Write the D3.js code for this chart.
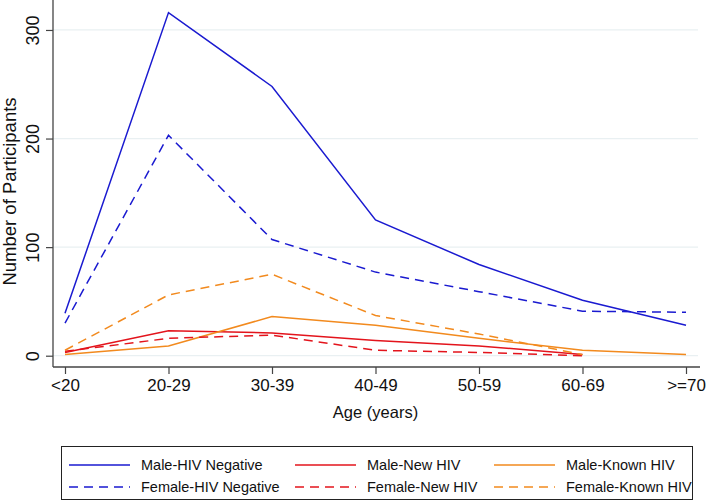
<!DOCTYPE html>
<html>
<head>
<meta charset="utf-8">
<script src="https://cdn.jsdelivr.net/npm/d3@7"></script>
<style>
  body { margin: 0; background: #fff; }
  svg { font-family: "Liberation Sans", Arial, Helvetica, sans-serif; }
</style>
</head>
<body>
<div id="chart"></div>
<script>
const ageGroups = ["<20", "20-29", "30-39", "40-49", "50-59", "60-69", ">=70"];
const yTicks = [0, 100, 200, 300];

const maleNegative = [39, 316, 248, 125, 84, 51, 28];
const femaleNegative = [30, 203, 107, 77, 59, 41, 40];
const maleNew = [3, 23, 21, 14, 9, 1, null];
const femaleNew = [4, 16, 19, 5, 3, 0, null];
const maleKnown = [1, 9, 36, 28, 16, 5, 1];
const femaleKnown = [5, 56, 75, 37, 20, 1, null];

const seriesNames = ["Male-HIV Negative", "Male-New HIV", "Male-Known HIV",
                     "Female-HIV Negative", "Female-New HIV", "Female-Known HIV"];

const blue = "#1a1ad0", red = "#e3141c", orange = "#f28a1e";

const series = [
    { name: seriesNames[0], values: maleNegative, color: blue, dash: null },
    { name: seriesNames[1], values: maleNew, color: red, dash: null },
    { name: seriesNames[2], values: maleKnown, color: orange, dash: null },
    { name: seriesNames[3], values: femaleNegative, color: blue, dash: "9,6" },
    { name: seriesNames[4], values: femaleNew, color: red, dash: "9,6" },
    { name: seriesNames[5], values: femaleKnown, color: orange, dash: "9,6" }
];

const width = 706, height = 502;
const plot = { left: 53, right: 698, top: 0, bottom: 367 };

const svg = d3.select("#chart").append("svg")
    .attr("width", width)
    .attr("height", height);

const x = d3.scalePoint()
    .domain(ageGroups)
    .range([65, 686]);

const y = d3.scaleLinear()
    .domain([-10.4, 327.6])
    .range([plot.bottom, plot.top]);

// grid
svg.append("g").selectAll("line")
    .data(yTicks)
    .enter().append("line")
    .attr("x1", plot.left)
    .attr("x2", plot.right)
    .attr("y1", d => y(d))
    .attr("y2", d => y(d))
    .attr("stroke", "#e9f0f2")
    .attr("stroke-width", 1.3);

// lines
const line = d3.line()
    .defined(d => d.v !== null)
    .x(d => x(d.age))
    .y(d => y(d.v));

svg.append("g").selectAll("path")
    .data(series)
    .enter().append("path")
    .attr("fill", "none")
    .attr("stroke", d => d.color)
    .attr("stroke-width", 1.5)
    .attr("stroke-dasharray", d => d.dash)
    .attr("d", d => line(d.values.map((v, i) => ({ age: ageGroups[i], v: v }))));

// y axis
const yAxis = svg.append("g")
    .attr("transform", `translate(${plot.left},0)`)
    .call(d3.axisLeft(y).tickValues(yTicks).tickSize(7).tickFormat(d3.format("d")).tickSizeOuter(0));
yAxis.select(".domain").attr("stroke", "#444").attr("stroke-width", 1.3)
    .attr("d", `M0,${plot.top}V${plot.bottom}`);
yAxis.selectAll(".tick line").attr("stroke", "#444").attr("stroke-width", 1.2);
yAxis.selectAll(".tick text")
    .attr("font-size", 18)
    .attr("fill", "#111")
    .attr("text-anchor", "middle")
    .attr("x", 0)
    .attr("dy", 0)
    .attr("transform", "translate(-14,0) rotate(-90)");

// x axis
const xAxis = svg.append("g")
    .attr("transform", `translate(0,${plot.bottom})`)
    .call(d3.axisBottom(x).tickSize(7).tickSizeOuter(0));
xAxis.select(".domain").attr("stroke", "#444").attr("stroke-width", 1.3)
    .attr("d", `M${plot.left},0H${plot.right + 2}`);
xAxis.selectAll(".tick line").attr("stroke", "#444").attr("stroke-width", 1.2);
xAxis.selectAll(".tick text")
    .attr("font-size", 17)
    .attr("fill", "#111")
    .attr("y", 12)
    .attr("dy", "0.71em");

// axis titles
svg.append("text")
    .attr("transform", `translate(16,${(plot.top + plot.bottom) / 2 + 8}) rotate(-90)`)
    .attr("text-anchor", "middle")
    .attr("font-size", 18.5)
    .attr("fill", "#111")
    .text("Number of Participants");

svg.append("text")
    .attr("x", (plot.left + plot.right) / 2)
    .attr("y", 418)
    .attr("text-anchor", "middle")
    .attr("font-size", 16.5)
    .attr("fill", "#111")
    .text("Age (years)");

// legend
const legend = svg.append("g");
legend.append("rect")
    .attr("x", 61.5)
    .attr("y", 446.5)
    .attr("width", 631)
    .attr("height", 53)
    .attr("fill", "#fff")
    .attr("stroke", "#222")
    .attr("stroke-width", 1);

const colX = [69, 295, 494];
const rowY = [465, 487];

const item = legend.selectAll(".item")
    .data(series)
    .enter().append("g")
    .attr("class", "item")
    .attr("transform", (d, i) => `translate(${colX[i % 3]},${rowY[Math.floor(i / 3)]})`);

item.append("line")
    .attr("x1", 0)
    .attr("x2", 61)
    .attr("stroke", d => d.color)
    .attr("stroke-width", 1.5)
    .attr("stroke-dasharray", d => d.dash);

item.append("text")
    .attr("x", 72)
    .attr("dy", "0.35em")
    .attr("font-size", 14.5)
    .attr("fill", "#111")
    .text(d => d.name);
</script>
</body>
</html>
